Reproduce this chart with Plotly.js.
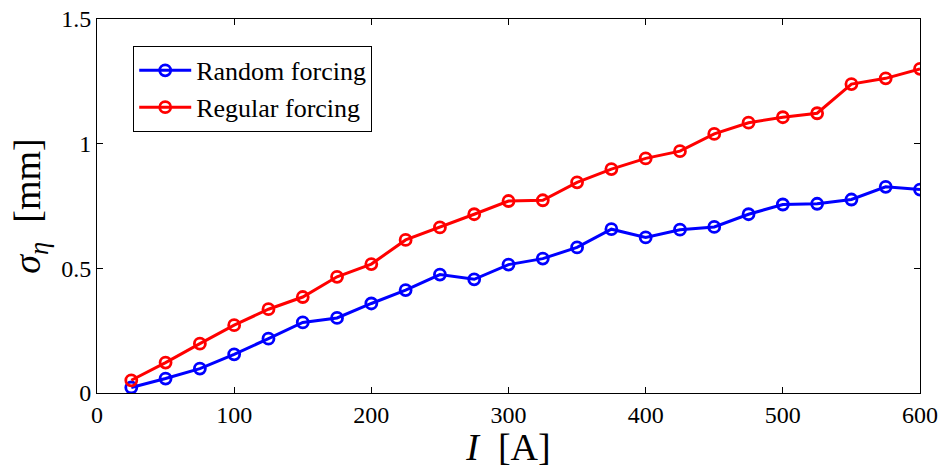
<!DOCTYPE html>
<html>
<head>
<meta charset="utf-8">
<script src="https://cdn.plot.ly/plotly-3.0.1.min.js"></script>
<style>html,body{margin:0;padding:0;background:#fff;}#chart{width:943px;height:468px;}</style>
</head>
<body>
<div id="chart"></div>
<script>
const current = [25,50,75,100,125,150,175,200,225,250,275,300,325,350,375,400,425,450,475,500,525,550,575,600];
const randomForcing = [0.022,0.058,0.098,0.155,0.218,0.283,0.301,0.359,0.413,0.475,0.456,0.515,0.539,0.584,0.657,0.624,0.655,0.666,0.717,0.756,0.759,0.776,0.827,0.816];
const regularForcing = [0.051,0.122,0.198,0.272,0.336,0.385,0.466,0.517,0.614,0.664,0.717,0.770,0.773,0.845,0.898,0.941,0.970,1.039,1.084,1.106,1.122,1.239,1.262,1.300];
const seriesNames = ['Random forcing','Regular forcing'];
const xTicks = [0,100,200,300,400,500,600];
const yTicks = [0,0.5,1,1.5];
const yTickText = ['0','0.5','1','1.5'];

const font = 'Liberation Serif, Times New Roman, serif';
function trace(y, name, color){
  return {x: current, y: y, name: name, type:'scatter', mode:'lines+markers',
    line:{color:color, width:3},
    marker:{symbol:'circle-open', size:11, color:color, line:{width:2.8, color:color}}};
}
const data = [trace(randomForcing, seriesNames[0], '#0000ff'), trace(regularForcing, seriesNames[1], '#ff0000')];
const axisCommon = {showgrid:false, zeroline:false, showline:true, linecolor:'#000', linewidth:1,
  mirror:'ticks', ticks:'inside', ticklen:6, tickwidth:1, tickcolor:'#000',
  tickfont:{family:font, size:24, color:'#000'}};
const layout = {
  width:943, height:468,
  margin:{l:97, r:23, t:19, b:75},
  paper_bgcolor:'#fff', plot_bgcolor:'#fff',
  font:{family:font, color:'#000'},
  showlegend:true,
  legend:{x:0.044, y:0.928, xanchor:'left', yanchor:'top', bgcolor:'#fff', bordercolor:'#000', borderwidth:1,
    font:{family:font, size:26, color:'#000'}, tracegroupgap:0, itemwidth:52},
  xaxis: Object.assign({}, axisCommon, {range:[0,600], tickvals:xTicks, ticktext:xTicks.map(String),
    title:{text:'<i>I</i>  [A]', font:{family:font, size:38, color:'#000'}, standoff:2}}),
  yaxis: Object.assign({}, axisCommon, {range:[0,1.5], tickvals:yTicks, ticktext:yTickText,
    title:{text:'<i>σ</i><sub><i>η</i></sub>  [mm]', font:{family:font, size:38, color:'#000'}, standoff:8}})
};
Plotly.newPlot('chart', data, layout, {displayModeBar:false, staticPlot:true});
</script>
</body>
</html>
